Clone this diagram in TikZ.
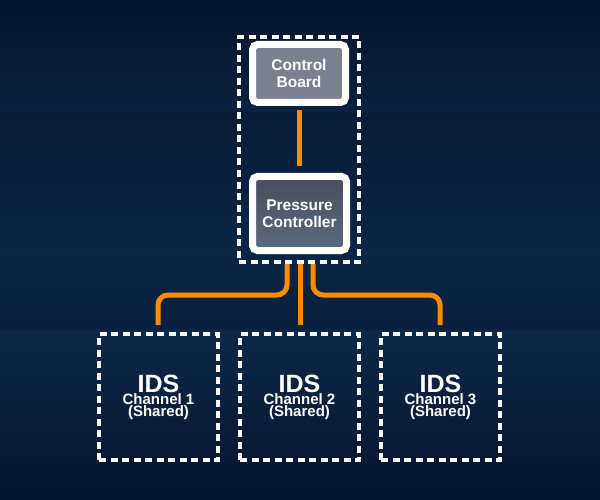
\documentclass[tikz,border=0pt]{standalone}
\usepackage{fontspec}
\setmainfont{Liberation Sans}
\begin{document}
\begin{tikzpicture}[x=1pt,y=-1pt,
  dashbox/.style={draw=white,line width=3.2pt,dash pattern=on 7pt off 4.5pt},
  wbox/.style={draw=white,line width=7pt,rounded corners=5pt,inner sep=0pt,text=white,font=\bfseries\fontsize{15.5}{17}\selectfont,align=center},
  wire/.style={draw=orange!90!yellow,line width=5pt,rounded corners=10pt},
  ids/.style={dashbox,minimum width=119pt,minimum height=126pt,inner sep=0pt,text=white,align=center}]
\definecolor{bgA}{HTML}{06142E}\definecolor{bgB}{HTML}{0F3356}
\definecolor{cbg}{HTML}{7B8090}\definecolor{pcA}{HTML}{4A4D5E}\definecolor{pcB}{HTML}{5A6A80}
\fill[top color=bgA,bottom color=bgA,middle color=bgB] (0,0) rectangle (600,500);
\fill[bgA,opacity=0.4] (0,112) rectangle (600,330);
\useasboundingbox (0,0) rectangle (600,500);
\node[dashbox,minimum width=120pt,minimum height=225pt] (grp) at (299,149.5) {};
\node[wbox,fill=cbg,minimum width=93pt,minimum height=58pt] (cb) at (299,73.5) {Control\\Board};
\node[wbox,top color=pcA,bottom color=pcB,minimum width=94pt,minimum height=74pt] (pc) at (299.5,213.5) {Pressure\\Controller};
\draw[wire] (299,110) -- (299,166);
\node[ids] (i1) at (158.5,397) {{\bfseries\fontsize{25}{27}\selectfont IDS}\\{\bfseries\fontsize{15}{17}\selectfont Channel 1}\\{\bfseries\fontsize{15}{17}\selectfont (Shared)}};
\node[ids] (i2) at (299.5,397) {{\bfseries\fontsize{25}{27}\selectfont IDS}\\{\bfseries\fontsize{15}{17}\selectfont Channel 2}\\{\bfseries\fontsize{15}{17}\selectfont (Shared)}};
\node[ids] (i3) at (440.5,397) {{\bfseries\fontsize{25}{27}\selectfont IDS}\\{\bfseries\fontsize{15}{17}\selectfont Channel 3}\\{\bfseries\fontsize{15}{17}\selectfont (Shared)}};
\draw[wire] (287,264) |- (158,295) -- (158,325);
\draw[wire] (300,264) -- (300,325);
\draw[wire] (313,264) |- (440,295) -- (440,325);
\end{tikzpicture}
\end{document}
